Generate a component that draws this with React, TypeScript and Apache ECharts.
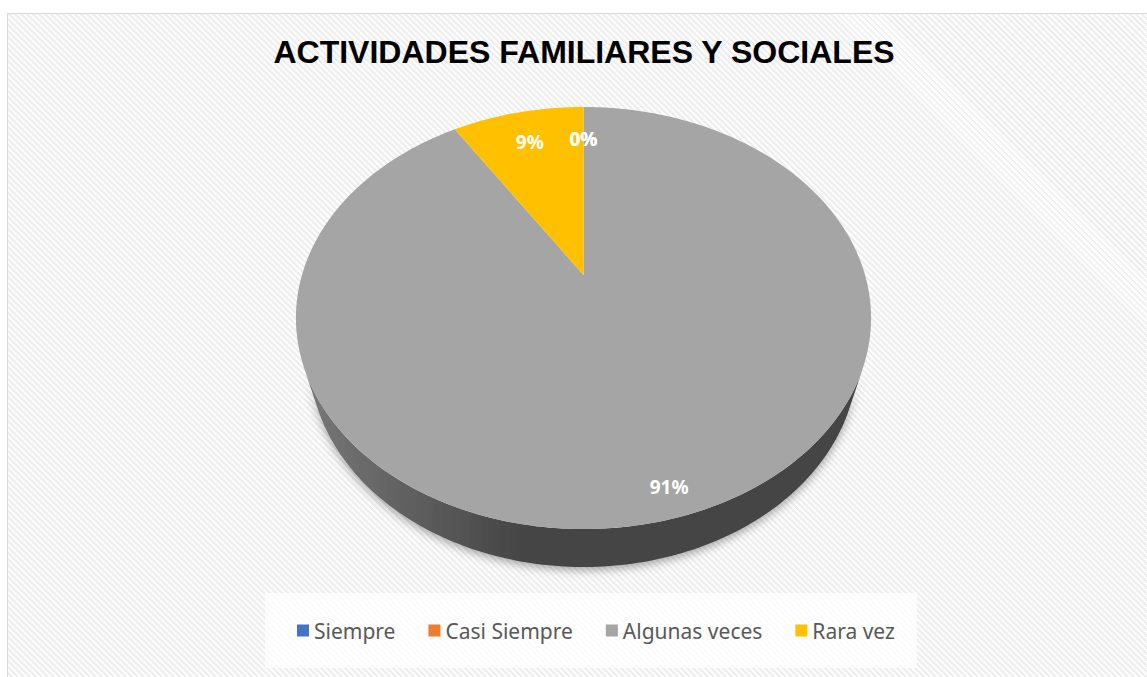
import React, { useEffect, useRef } from 'react';
import * as echarts from 'echarts';

// ---- data ----
const titleText = 'ACTIVIDADES FAMILIARES Y SOCIALES';
const categories = ['Siempre', 'Casi Siempre', 'Algunas veces', 'Rara vez'];
const values = [0, 0, 91, 9];

// ---- styles ----
const colors = ['#4472C4', '#ED7D31', '#A5A5A5', '#FFC000'];
const sideLight = ['#5b7fc0', '#f0955a', '#7a7a7a', '#ffd24d'];
const sideDark = ['#2f528f', '#ae5a21', '#444444', '#bf9000'];

// ---- 3D projection geometry (perspective view of a tilted disc) ----
const CX = 583.5;
const CY = 275;
const FOCAL = 960.6;
const DIST = 3.412;
const TILT = (45.93 * Math.PI) / 180;
const DEPTH = 0.2248;
const LABEL_INSET = 32;

const SN = Math.sin(TILT);
const CS = Math.cos(TILT);

function proj(X: number, Y: number, Z: number): number[] {
  const yv = Z * SN - Y * CS;
  const d = DIST - Z * CS - Y * SN;
  return [CX + (FOCAL * X) / d, CY + (FOCAL * yv) / d];
}
function ringPoint(deg: number, Y: number): number[] {
  const r = (deg * Math.PI) / 180;
  return proj(Math.sin(r), Y, -Math.cos(r));
}

const WALL_A = (Math.acos(-1 / (DIST * CS)) * 180) / Math.PI;
const WALL_B = 360 - WALL_A;

function sliceRange(i: number) {
  const total = values.reduce((a, b) => a + b, 0);
  let acc = 0;
  for (let k = 0; k < i; k++) acc += values[k];
  const start = (acc / total) * 360;
  const end = start + (values[i] / total) * 360;
  return { start, end, pct: Math.round((values[i] / total) * 100) };
}

function arc(a: number, b: number, Y: number): number[][] {
  const n = Math.max(2, Math.ceil(Math.abs(b - a)));
  const pts: number[][] = [];
  for (let k = 0; k <= n; k++) pts.push(ringPoint(a + ((b - a) * k) / n, Y));
  return pts;
}

function makeRenderItem(i: number) {
  return (params: any, api: any) => {
    api.value(0);
    const { start, end, pct } = sliceRange(i);
    const children: any[] = [];
    if (end > start) {
      const center = proj(0, 0, 0);
      children.push({
        type: 'polygon',
        z2: 10,
        shape: { points: [center, ...arc(start, end, 0)] },
        style: { fill: colors[i] },
      });
      const a = Math.max(start, WALL_A);
      const b = Math.min(end, WALL_B);
      if (b > a) {
        const pts = [...arc(a, b, 0), ...arc(b, a, -DEPTH)];
        children.push({
          type: 'polygon',
          z2: 1,
          shape: { points: pts },
          style: {
            fill: new echarts.graphic.LinearGradient(
              296, 0, 871, 0,
              [
                { offset: 0, color: sideLight[i] },
                { offset: 0.4, color: sideDark[i] },
                { offset: 1, color: sideDark[i] },
              ],
              true
            ),
            shadowBlur: 10,
            shadowColor: 'rgba(0,0,0,0.35)',
            shadowOffsetY: 3,
          },
        });
      }
    }
    const mid = (start + end) / 2;
    const outer = ringPoint(mid, 0);
    const c = proj(0, 0, 0);
    const dx = c[0] - outer[0];
    const dy = c[1] - outer[1];
    const len = Math.sqrt(dx * dx + dy * dy) || 1;
    children.push({
      type: 'text',
      z2: 20,
      x: outer[0] + (dx / len) * LABEL_INSET,
      y: outer[1] + (dy / len) * LABEL_INSET,
      style: {
        text: pct + '%',
        fill: '#ffffff',
        font: 'bold 19px "Noto Sans", sans-serif',
        align: 'center',
        verticalAlign: 'middle',
      },
    });
    return { type: 'group', children };
  };
}

export default function App() {
  const ref = useRef<HTMLDivElement>(null);
  useEffect(() => {
    if (!ref.current) return;
    const chart = echarts.init(ref.current, null, { renderer: 'svg' });
    chart.setOption({
      animation: false,
      graphic: [
        {
          type: 'text',
          x: 584,
          y: 52,
          style: {
            text: titleText,
            fill: '#000000',
            font: 'bold 32px "Liberation Sans", Arial, sans-serif',
            align: 'center',
            verticalAlign: 'middle',
          },
        },
      ],
      legend: {
        data: categories,
        icon: 'rect',
        itemWidth: 12,
        itemHeight: 12,
        itemGap: 33,
        left: 265,
        top: 593,
        padding: [27, 22, 27, 32],
        backgroundColor: 'rgba(255,255,255,0.75)',
        selectedMode: false,
        textStyle: { fontFamily: '"Noto Sans", sans-serif', fontSize: 21, color: '#595959' },
      },
      series: categories.map((name, i) => ({
        type: 'custom',
        name,
        coordinateSystem: 'none',
        itemStyle: { color: colors[i] },
        data: [values[i]],
        renderItem: makeRenderItem(i),
      })),
    });
    return () => chart.dispose();
  }, []);

  return (
    <div
      style={{
        position: 'fixed',
        left: 0,
        top: 0,
        width: 1147,
        height: 677,
        overflow: 'hidden',
        background: '#ffffff',
      }}
    >
      <div
        style={{
          position: 'absolute',
          left: 7,
          top: 13,
          width: 1200,
          height: 720,
          border: '1px solid #d9d9d9',
          background:
            'repeating-linear-gradient(45deg, #eeeeee 0px, #eeeeee 2.1px, #fdfdfd 2.1px, #fdfdfd 4.24px)',
        }}
      />
      <div ref={ref} style={{ position: 'absolute', left: 0, top: 0, width: 1147, height: 677 }} />
    </div>
  );
}
